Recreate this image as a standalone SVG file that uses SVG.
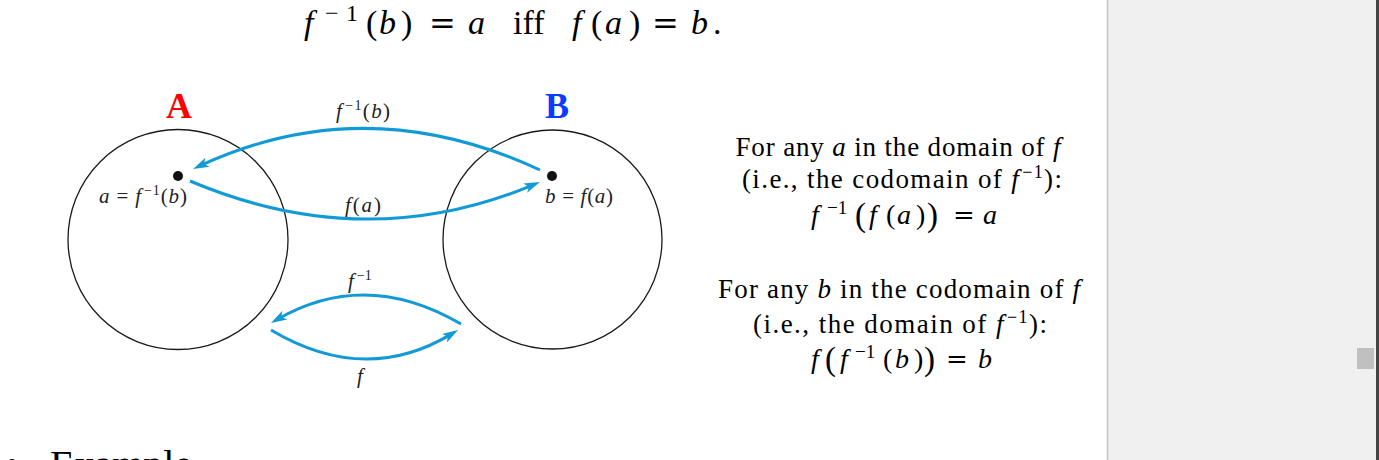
<svg xmlns="http://www.w3.org/2000/svg" width="1379" height="460" viewBox="0 0 1379 460">
<style>
.serif{font-family:"Liberation Serif","Times New Roman",serif;fill:#000}
.it{font-style:italic}
.eqs{font-family:"DejaVu Serif",serif}
.lab{font-family:"Liberation Serif","Times New Roman",serif;font-size:21px;fill:#222}
.set{fill:none;stroke:#1a1a1a;stroke-width:1.3}
.arr{fill:none;stroke:#119ad6;stroke-width:3;stroke-linecap:butt}
.eq{font-family:"Liberation Serif","Times New Roman",serif;font-size:27px;fill:#000}
.m{font-family:"Liberation Serif","Times New Roman",serif;font-size:28px;fill:#000}
</style>
<defs>
<marker id="ah" viewBox="0 0 16 10" refX="8" refY="5" markerWidth="16" markerHeight="10" markerUnits="userSpaceOnUse" orient="auto">
<path d="M0,0 L16,5 L0,10 L4,5 Z" fill="#119ad6"/>
</marker>
</defs>
<rect x="0" y="0" width="1379" height="460" fill="#ffffff"/>

<g id="title">
<text class="serif" y="34" font-size="34"><tspan class="it" x="304">f</tspan><tspan x="325" y="21" font-size="24">−</tspan><tspan x="346" y="21" font-size="24">1</tspan><tspan x="366" y="34">(</tspan><tspan class="it" x="379">b</tspan><tspan x="401">)</tspan><tspan class="eqs" x="429" font-size="32">=</tspan><tspan class="it" x="468">a</tspan><tspan x="513">iff</tspan><tspan class="it" x="572">f</tspan><tspan x="591">(</tspan><tspan class="it" x="605">a</tspan><tspan x="629">)</tspan><tspan class="eqs" x="652" font-size="32">=</tspan><tspan class="it" x="691">b</tspan><tspan x="713">.</tspan></text>
</g>

<g id="setA">
<circle class="set" cx="178" cy="239.5" r="110"/>
<text x="166" y="118" font-family="Liberation Serif, Times New Roman, serif" font-weight="bold" font-size="36" fill="#ff0000">A</text>
</g>
<g id="setB">
<circle class="set" cx="552.5" cy="239.5" r="109.5"/>
<text x="545" y="118" font-family="Liberation Serif, Times New Roman, serif" font-weight="bold" font-size="36" fill="#0b3bff">B</text>
</g>

<g id="pointA">
<circle cx="178" cy="176" r="5" fill="#111"/>
<text class="lab" x="99" y="203" textLength="88" lengthAdjust="spacing"><tspan class="it">a</tspan> = <tspan class="it">f</tspan><tspan font-size="14" dx="2" dy="-8">−1</tspan><tspan dy="8">(</tspan><tspan class="it">b</tspan>)</text>
</g>
<g id="pointB">
<circle cx="552" cy="176" r="5" fill="#111"/>
<text class="lab" x="545" y="203" textLength="68" lengthAdjust="spacing"><tspan class="it">b</tspan> = <tspan class="it">f</tspan>(<tspan class="it">a</tspan>)</text>
</g>

<g id="connectors">
<path class="arr" d="M540,170 Q366,89 200.3,165.6" marker-end="url(#ah)"/>
<path class="arr" d="M190,181 Q365,255 532.6,185.1" marker-end="url(#ah)"/>
<path class="arr" d="M461,324 Q366,268.5 277.9,319" marker-end="url(#ah)"/>
<path class="arr" d="M271,330 Q365,386 451.2,334.1" marker-end="url(#ah)"/>
<text class="lab" x="336" y="118" textLength="54" lengthAdjust="spacing"><tspan class="it">f</tspan><tspan font-size="14" dx="2" dy="-8">−1</tspan><tspan dy="8">(</tspan><tspan class="it">b</tspan>)</text>
<text class="lab" x="345" y="212" textLength="36" lengthAdjust="spacing"><tspan class="it">f</tspan>(<tspan class="it">a</tspan>)</text>
<text class="lab" x="348" y="288"><tspan class="it">f</tspan><tspan font-size="14" dx="3" dy="-8">−1</tspan></text>
<text class="lab it" x="357" y="383">f</text>
</g>

<g id="notes">
<text class="eq" x="898" y="156" text-anchor="middle" textLength="325" lengthAdjust="spacing">For any <tspan class="it">a</tspan> in the domain of <tspan class="it">f</tspan></text>
<text class="eq" x="902" y="188" text-anchor="middle" textLength="320" lengthAdjust="spacing">(i.e., the codomain of <tspan class="it">f</tspan><tspan font-size="18" dx="2" dy="-10">−1</tspan><tspan dy="10">):</tspan></text>
<text class="m" y="224"><tspan class="it" x="811">f</tspan><tspan x="827" y="214" font-size="19">−1</tspan><tspan x="855" y="226" font-size="33">(</tspan><tspan class="it" x="869" y="224">f</tspan><tspan x="886">(</tspan><tspan class="it" x="897">a</tspan><tspan x="916">)</tspan><tspan x="927" y="226" font-size="33">)</tspan><tspan class="eqs" x="953" y="224" font-size="26">=</tspan><tspan class="it" x="983">a</tspan></text>
<text class="eq" x="899" y="298" text-anchor="middle" textLength="362" lengthAdjust="spacing">For any <tspan class="it">b</tspan> in the codomain of <tspan class="it">f</tspan></text>
<text class="eq" x="900" y="333" text-anchor="middle" textLength="294" lengthAdjust="spacing">(i.e., the domain of <tspan class="it">f</tspan><tspan font-size="18" dx="2" dy="-10">−1</tspan><tspan dy="10">):</tspan></text>
<text class="m" y="368"><tspan class="it" x="811">f</tspan><tspan x="825" y="370" font-size="33">(</tspan><tspan class="it" x="840" y="368">f</tspan><tspan x="855" y="358" font-size="19">−1</tspan><tspan x="883" y="368">(</tspan><tspan class="it" x="895">b</tspan><tspan x="914">)</tspan><tspan x="924" y="370" font-size="33">)</tspan><tspan class="eqs" x="946" y="368" font-size="26">=</tspan><tspan class="it" x="978">b</tspan></text>
</g>

<g id="bottom">
<circle cx="12" cy="464" r="5" fill="#000"/>
<text class="serif" x="50" y="478" font-size="40">Example</text>
</g>

<g id="sidebar">
<rect x="1108" y="0" width="268" height="460" fill="#f0f0f0"/>
<line x1="1107.5" y1="0" x2="1107.5" y2="460" stroke="#c4c4c4" stroke-width="1.5"/>
<rect x="1376" y="0" width="3" height="460" fill="#444444"/>
<rect x="1357" y="348" width="17" height="21" fill="#c0c0c0"/>
</g>
</svg>
